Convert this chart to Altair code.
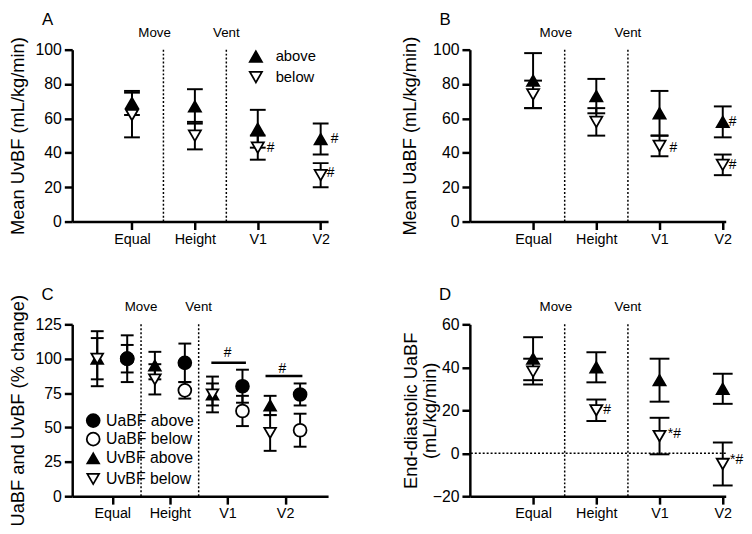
import json
import altair as alt
import pandas as pd

FONT = "Liberation Sans"

cats = ["Equal", "Height", "V1", "V2"]
pos = [0, 1, 2, 3]

# Panel A: Mean UvBF (mL/kg/min)
a_above = [69, 67, 54, 48]
a_above_err = [7, 10, 11, 9]
a_below = [62, 50, 43, 27]
a_below_err = [13, 8, 7, 7]

# Panel B: Mean UaBF (mL/kg/min)
b_above = [82, 73, 63, 58]
b_above_err = [16, 10, 13, 9]
b_below = [74, 58, 44, 33]
b_below_err = [8, 8, 6, 6]

# Panel C: UaBF and UvBF (% change)
c_uv_above = [100, 95, 74, 66]
c_uv_above_err = [15, 10, 13, 7]
c_uv_below = [100, 85, 74, 46]
c_uv_below_err = [20, 11, 8, 13]
c_ua_above = [100, 97, 80, 74]
c_ua_above_err = [17, 14, 12, 8]
c_ua_below = [100, 77, 62, 48]
c_ua_below_err = [10, 6, 11, 12]

# Panel D: End-diastolic UaBF (mL/kg/min)
d_above = [44, 40, 34, 30]
d_above_err = [10, 7, 10, 7]
d_below = [38, 20, 8, -5]
d_below_err = [6, 5, 8.5, 10]

# significance bars in C (x from, x to, y level)
c_sig_x = [1.72, 2.66]
c_sig_x2 = [2.32, 3.30]
c_sig_y = [97, 87.5]
c_sig_text_x = [2.0, 2.95]
c_sig_text_y = [104, 92.5]

label_expr = json.dumps(cats) + "[datum.value]"


def make_panel(series, xdom, ydom, yvals, ytitle, title_x, letter, cap,
               annots, move_x, legend=None, sig=None, zero_line=False):
    xaxis = alt.Axis(values=pos, labelExpr=label_expr, title=None)
    yaxis = alt.Axis(values=yvals, title=ytitle, titleX=title_x)

    def X():
        return alt.X("x:Q", scale=alt.Scale(domain=xdom, nice=False, zero=False), axis=xaxis)

    def Y(field):
        return alt.Y(f"{field}:Q", scale=alt.Scale(domain=ydom, nice=False, zero=False), axis=yaxis)

    rows = []
    for s in series:
        for xv, m, e in zip(s["x"], s["mean"], s["err"]):
            rows.append({"x": xv, "lo": m - e, "hi": m + e, "y": m})
    eb = pd.DataFrame(rows)

    layers = []
    sep = pd.DataFrame({"x": [0.5, 1.5]})
    layers.append(alt.Chart(sep).mark_rule(strokeDash=[2, 2], strokeWidth=1.5, color="black").encode(x=X()))
    if zero_line:
        zl = pd.DataFrame({"y": [0]})
        layers.append(alt.Chart(zl).mark_rule(strokeDash=[2, 2], strokeWidth=1.5, color="black").encode(y=Y("y")))
    layers.append(alt.Chart(eb).mark_rule(strokeWidth=2, color="black").encode(x=X(), y=Y("lo"), y2="hi"))
    layers.append(alt.Chart(eb).mark_tick(orient="horizontal", size=cap, thickness=2, color="black", opacity=1).encode(x=X(), y=Y("lo")))
    layers.append(alt.Chart(eb).mark_tick(orient="horizontal", size=cap, thickness=2, color="black", opacity=1).encode(x=X(), y=Y("hi")))
    for s in series:
        df = pd.DataFrame({"x": s["x"], "y": s["mean"]})
        layers.append(alt.Chart(df).mark_point(shape=s["shape"], filled=True, fill=s["fill"], stroke="black",
                                               strokeWidth=1.8, size=s["size"], opacity=1).encode(x=X(), y=Y("y")))
    if sig is not None:
        sdf = pd.DataFrame({"x": sig[0], "x2": sig[1], "y": sig[2]})
        layers.append(alt.Chart(sdf).mark_rule(strokeWidth=2.5, color="black").encode(x=X(), x2="x2", y=Y("y")))
        tdf = pd.DataFrame({"x": sig[3], "y": sig[4], "t": ["#"] * len(sig[3])})
        layers.append(alt.Chart(tdf).mark_text(font=FONT, fontSize=14, color="black").encode(x=X(), y=Y("y"), text="t"))
    for (xv, yv, t, dx) in annots:
        adf = pd.DataFrame({"x": [xv], "y": [yv], "t": [t]})
        layers.append(alt.Chart(adf).mark_text(font=FONT, fontSize=14, color="black", dx=dx, align="center").encode(
            x=X(), y=Y("y"), text="t"))
    if legend is not None:
        for (sx, tx, ly, shape, fill, size, txt, tdx, fs) in legend:
            pdf = pd.DataFrame({"x": [sx], "y": [ly]})
            tdf = pd.DataFrame({"x": [tx], "y": [ly], "t": [txt]})
            layers.append(alt.Chart(pdf).mark_point(shape=shape, filled=True, fill=fill, stroke="black", strokeWidth=1.8,
                                                    size=size, opacity=1).encode(x=X(), y=Y("y")))
            layers.append(alt.Chart(tdf).mark_text(font=FONT, fontSize=fs, color="black", align="left", dx=tdx).encode(
                x=X(), y=Y("y"), text="t"))
    mv = pd.DataFrame({"x": [move_x, 1.5], "t": ["Move", "Vent"]})
    layers.append(alt.Chart(mv).mark_text(font=FONT, fontSize=13.5, color="black").encode(
        x=X(), y=alt.value(-17), text="t"))
    lt = pd.DataFrame({"t": [letter]})
    layers.append(alt.Chart(lt).mark_text(font=FONT, fontSize=17, color="black").encode(
        x=alt.value(-25), y=alt.value(-30), text="t"))
    return alt.layer(*layers).properties(width=259, height=174)


xdom_a = [-0.9503, 3.118]
xdom_bd = [-1.0, 3.0469]
xdom_c = [-0.6943, 3.7457]

tri = 150
A = make_panel(
    [
        {"x": pos, "mean": a_above, "err": a_above_err, "shape": "triangle-up", "fill": "black", "size": tri},
        {"x": pos, "mean": a_below, "err": a_below_err, "shape": "triangle-down", "fill": "white", "size": tri},
    ],
    xdom_a, [0, 100], [0, 20, 40, 60, 80, 100], "Mean UvBF (mL/kg/min)", -45, "A", 16,
    [(2, 43, "#", 13), (3, 48, "#", 14), (3, 28, "#", 10)], 0.36,
    legend=[(1.97, 1.97, 96, "triangle-up", "black", tri, "above", 20, 15),
            (1.97, 1.97, 84, "triangle-down", "white", tri, "below", 20, 15)],
)
B = make_panel(
    [
        {"x": pos, "mean": b_above, "err": b_above_err, "shape": "triangle-up", "fill": "black", "size": tri},
        {"x": pos, "mean": b_below, "err": b_below_err, "shape": "triangle-down", "fill": "white", "size": tri},
    ],
    xdom_bd, [0, 100], [0, 20, 40, 60, 80, 100], "Mean UaBF (mL/kg/min)", -51, "B", 18,
    [(2, 43, "#", 14), (3, 58, "#", 10), (3, 33, "#", 10)], 0.36,
)
off = 0.26
C = make_panel(
    [
        {"x": [p - off for p in pos], "mean": c_uv_above, "err": c_uv_above_err, "shape": "triangle-up", "fill": "black", "size": 140},
        {"x": [p - off for p in pos], "mean": c_uv_below, "err": c_uv_below_err, "shape": "triangle-down", "fill": "white", "size": 140},
        {"x": [p + off for p in pos], "mean": c_ua_below, "err": c_ua_below_err, "shape": "circle", "fill": "white", "size": 170},
        {"x": [p + off for p in pos], "mean": c_ua_above, "err": c_ua_above_err, "shape": "circle", "fill": "black", "size": 170},
    ],
    xdom_c, [0, 125], [0, 25, 50, 75, 100, 125], "UaBF and UvBF (% change)", -45, "C", 13,
    [], 0.5,
    legend=[(-0.33, -0.33, 55, "circle", "black", 170, "UaBF above", 13, 16),
            (-0.33, -0.33, 41.5, "circle", "white", 170, "UaBF below", 13, 16),
            (-0.33, -0.33, 27.5, "triangle-up", "black", 140, "UvBF above", 13, 16),
            (-0.33, -0.33, 12.5, "triangle-down", "white", 140, "UvBF below", 13, 16)],
    sig=(c_sig_x, c_sig_x2, c_sig_y, c_sig_text_x, c_sig_text_y),
)
D = make_panel(
    [
        {"x": pos, "mean": d_above, "err": d_above_err, "shape": "triangle-up", "fill": "black", "size": tri},
        {"x": pos, "mean": d_below, "err": d_below_err, "shape": "triangle-down", "fill": "white", "size": tri},
    ],
    xdom_bd, [-20, 60], [-20, 0, 20, 40, 60], ["End-diastolic UaBF", "(mL/kg/min)"], -50, "D", 20,
    [(1, 20, "#", 11), (2, 9, "*#", 15), (3, -3, "*#", 14)], 0.36, zero_line=True,
)

chart = alt.concat(
    A, B, C, D, columns=2, spacing={"row": 104, "column": 143.5}, bounds="flush",
    padding={"left": 0, "top": 0, "right": 0, "bottom": 0},
).configure_view(stroke=None).configure_axis(
    domainColor="black", domainWidth=2.5, tickColor="black", tickWidth=2.5, tickSize=8,
    labelFont=FONT, labelColor="black", titleFont=FONT, titleColor="black", titleFontWeight="normal",
    grid=False, labelPadding=3,
).configure_axisX(labelFontSize=14.5).configure_axisY(labelFontSize=16, titleFontSize=18.5, titleLineHeight=19)

chart.save("out.html", embed_options={"renderer": "svg", "actions": False})
